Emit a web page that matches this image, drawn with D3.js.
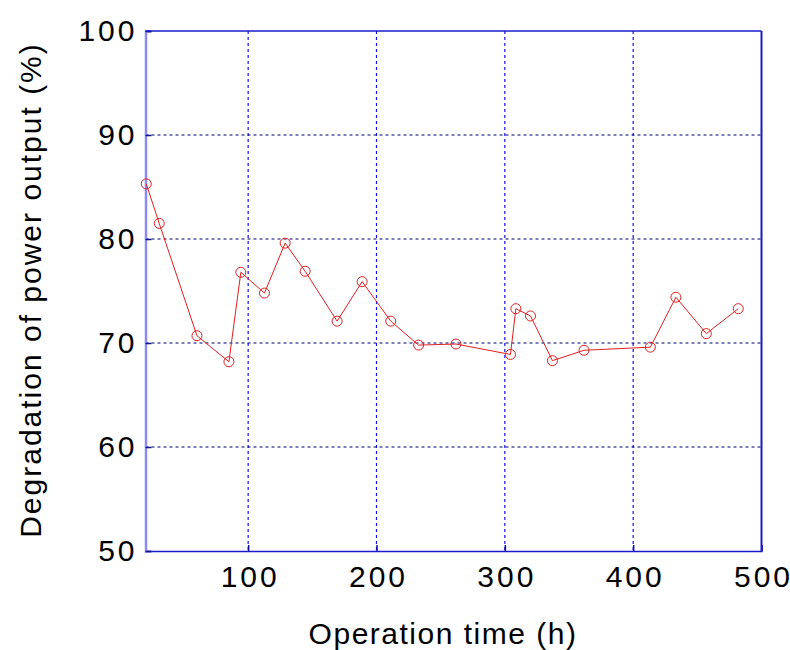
<!DOCTYPE html>
<html>
<head>
<meta charset="utf-8">
<script src="https://cdn.jsdelivr.net/npm/d3@7"></script>
<style>
  html, body { margin: 0; padding: 0; background: #fff; }
  svg { display: block; }
  text { font-family: "Liberation Sans", Arial, sans-serif; fill: #000; }
</style>
</head>
<body>
<div id="chart"></div>
<script>
// Data
const timeHours = [20.6, 30.7, 60.1, 85.0, 94.3, 112.7, 128.8, 144.4, 169.3, 188.8, 211.1,
                   232.8, 261.9, 304.4, 308.6, 320.0, 337.1, 361.7, 413.4, 433.3, 457.0, 481.9];
const degradation = [85.3, 81.5, 70.7, 68.2, 76.8, 74.8, 79.6, 76.9, 72.1, 75.9, 72.1,
                     69.8, 69.9, 68.9, 73.3, 72.6, 68.3, 69.3, 69.6, 74.4, 70.9, 73.3];
const xTicks = [100, 200, 300, 400, 500];
const yTicks = [50, 60, 70, 80, 90, 100];
const xDomain = [20, 500];
const yDomain = [50, 100];
const xTitle = "Operation time (h)";
const yTitle = "Degradation of power output (%)";

const W = 790, H = 650;
const mLeft = 145.5, mRight = 761.5, mTop = 31, mBottom = 551;

const svg = d3.select("#chart").append("svg").attr("width", W).attr("height", H);

const x = d3.scaleLinear().domain(xDomain).range([mLeft, mRight]);
const y = d3.scaleLinear().domain(yDomain).range([mBottom, mTop]);

// Grid lines
const grid = svg.append("g");
grid.selectAll("line.vg").data(xTicks.filter(t => t < xDomain[1])).enter().append("line")
  .attr("x1", d => x(d)).attr("x2", d => x(d))
  .attr("y1", mTop).attr("y2", mBottom)
  .attr("stroke", "#1010f0").attr("stroke-width", 1.2).attr("stroke-dasharray", "3,3");
grid.selectAll("line.hg").data(yTicks.filter(t => t > yDomain[0] && t < yDomain[1])).enter().append("line")
  .attr("x1", mLeft).attr("x2", mRight)
  .attr("y1", d => y(d)).attr("y2", d => y(d))
  .attr("stroke", "#000070").attr("stroke-width", 1.2).attr("stroke-dasharray", "3,3");

// Axes (frame)
const xAxis = d3.axisBottom(x).tickValues(xTicks).tickSize(-6).tickFormat(d3.format("d")).tickPadding(15);
const yAxis = d3.axisLeft(y).tickValues(yTicks).tickSize(-6).tickFormat(d3.format("d")).tickPadding(8);

const gx = svg.append("g").attr("transform", `translate(0,${mBottom})`).call(xAxis);
gx.select(".domain").attr("stroke", "#1a1ad0").attr("stroke-width", 1.5);
gx.selectAll(".tick line").attr("stroke", "#10109a").attr("stroke-width", 1.5);
gx.selectAll(".tick text").style("font-size", "30px").style("letter-spacing", "3px")
  .attr("fill", "#000").attr("dy", "0.71em").attr("dx", "1.5px");

const gy = svg.append("g").attr("transform", `translate(${mLeft},0)`).call(yAxis);
gy.select(".domain").attr("stroke", "#8a8af0").attr("stroke-width", 2.5);
gy.selectAll(".tick line").attr("stroke", "#10109a").attr("stroke-width", 1.5);
gy.selectAll(".tick text").style("font-size", "30px").style("letter-spacing", "3px")
  .attr("fill", "#000");

// top & right frame
svg.append("line").attr("x1", mLeft).attr("x2", mRight).attr("y1", mTop).attr("y2", mTop)
  .attr("stroke", "#1a1ad0").attr("stroke-width", 1.5);
svg.append("line").attr("x1", mRight).attr("x2", mRight).attr("y1", mTop).attr("y2", mBottom)
  .attr("stroke", "#1a1ad0").attr("stroke-width", 2);

// Data line
const pts = timeHours.map((t, i) => [t, degradation[i]]);
svg.append("path").datum(pts)
  .attr("fill", "none").attr("stroke", "#e02020").attr("stroke-width", 1)
  .attr("d", d3.line().x(d => x(d[0])).y(d => y(d[1])));
svg.append("g").selectAll("circle").data(pts).enter().append("circle")
  .attr("cx", d => x(d[0])).attr("cy", d => y(d[1])).attr("r", 5)
  .attr("fill", "none").attr("stroke", "#e02020").attr("stroke-width", 1);

// Titles
svg.append("text").attr("x", 443).attr("y", 644).attr("text-anchor", "middle")
  .style("font-size", "30px").style("letter-spacing", "1.5px").text(xTitle);
svg.append("text").attr("transform", "translate(41,290) rotate(-90)").attr("text-anchor", "middle")
  .style("font-size", "30px").style("letter-spacing", "2px").text(yTitle);
</script>
</body>
</html>
